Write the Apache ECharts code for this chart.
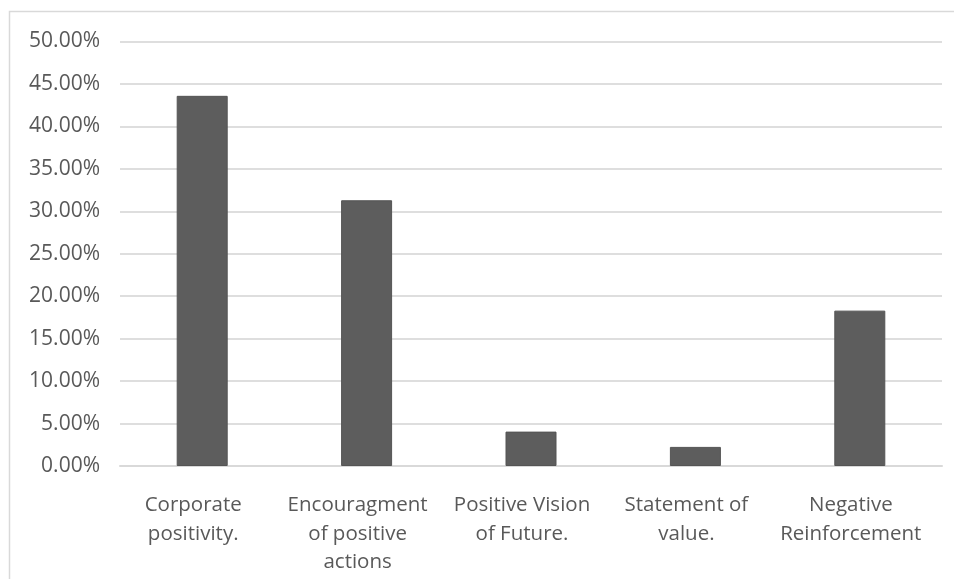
<!DOCTYPE html>
<html>
<head>
<meta charset="utf-8">
<style>
  html, body { margin: 0; padding: 0; background: #ffffff; }
  #chart { width: 954px; height: 579px; }
</style>
<script src="https://cdn.jsdelivr.net/npm/echarts@6/dist/echarts.min.js"></script>
</head>
<body>
<div id="chart"></div>
<script>
// Share of messages by motivational technique (percent)
const categories = [
  'Corporate\npositivity.',
  'Encouragment\nof positive\nactions',
  'Positive Vision\nof Future.',
  'Statement of\nvalue.',
  'Negative\nReinforcement'
];
const shares = [43.6, 31.3, 4.05, 2.25, 18.3];
const yMin = 0;
const yMax = 50;
const yStep = 5;

const chart = echarts.init(document.getElementById('chart'), null, { renderer: 'canvas' });
const textColor = '#595959';
const font = '"Open Sans", "Liberation Sans", sans-serif';

chart.setOption({
  animation: false,
  backgroundColor: '#ffffff',
  graphic: [{
    type: 'rect',
    shape: { x: 9.5, y: 11.5, width: 1000, height: 1000 },
    style: { fill: 'none', stroke: '#d9d9d9', lineWidth: 1.5 },
    silent: true
  }],
  grid: { left: 120, right: 12, top: 41.5, bottom: 113, containLabel: false },
  xAxis: {
    type: 'category',
    data: categories,
    axisLine: { show: true, lineStyle: { color: '#d9d9d9', width: 2 } },
    axisTick: { show: false },
    axisLabel: {
      interval: 0,
      margin: 25,
      color: textColor,
      fontFamily: font,
      fontSize: 20.5,
      lineHeight: 28.5,
      align: 'center',
      padding: [0, 18, 0, 0]
    }
  },
  yAxis: {
    type: 'value',
    min: yMin,
    max: yMax,
    interval: yStep,
    axisLine: { show: false },
    axisTick: { show: false },
    splitLine: { show: true, lineStyle: { color: '#dedede', width: 2 } },
    axisLabel: {
      margin: 20,
      color: textColor,
      fontFamily: font,
      fontSize: 21,
      formatter: v => v.toFixed(2) + '%'
    }
  },
  series: [{
    type: 'bar',
    data: shares,
    barWidth: 51,
    itemStyle: { color: '#5d5d5d', borderColor: '#545454', borderWidth: 1 }
  }]
});
</script>
</body>
</html>
